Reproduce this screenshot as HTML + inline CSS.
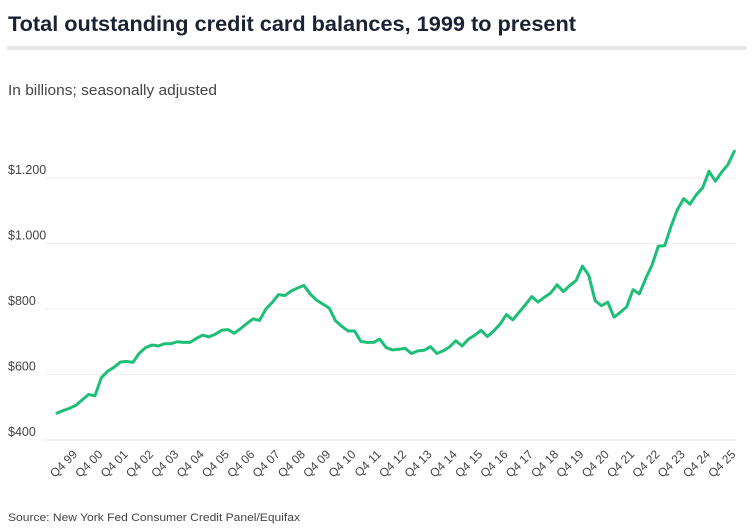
<!DOCTYPE html>
<html><head><meta charset="utf-8"><style>
html,body{margin:0;padding:0;background:#fff;}
svg{display:block;font-family:"Liberation Sans",sans-serif;}
</style></head><body>
<svg id="chart" width="754" height="531" viewBox="0 0 754 531">
<text x="8" y="31" font-size="21" font-weight="bold" fill="#1a2233" textLength="568" lengthAdjust="spacingAndGlyphs">Total outstanding credit card balances, 1999 to present</text>
<rect x="7" y="46" width="740" height="4" fill="#e6e6e6"></rect>
<text x="8" y="95" font-size="15" fill="#444" textLength="209" lengthAdjust="spacingAndGlyphs">In billions; seasonally adjusted</text>
<g id="grid"></g>
<g id="yaxis"></g>
<g id="xaxis"></g>
<g id="series"></g>
<text x="8" y="521" font-size="11" fill="#444" textLength="292" lengthAdjust="spacingAndGlyphs">Source: New York Fed Consumer Credit Panel/Equifax</text>
</svg>
<script>
const yTicks=[400,600,800,1000,1200];
const yTickLabels=["$400","$600","$800","$1.000","$1.200"];
const xTickLabels=["Q4 99","Q4 00","Q4 01","Q4 02","Q4 03","Q4 04","Q4 05","Q4 06","Q4 07","Q4 08","Q4 09","Q4 10","Q4 11","Q4 12","Q4 13","Q4 14","Q4 15","Q4 16","Q4 17","Q4 18","Q4 19","Q4 20","Q4 21","Q4 22","Q4 23","Q4 24","Q4 25"];
const balances=[482,490,497,506,523,539,535,590,610,622,638,640,637,665,682,690,687,694,694,700,698,698,710,720,715,723,735,737,726,740,756,770,765,800,820,844,841,855,864,872,846,827,815,803,764,747,733,733,701,698,698,708,682,675,677,680,664,672,674,685,664,672,684,703,687,708,720,735,716,733,754,783,767,790,813,838,821,836,849,874,853,872,887,931,903,826,810,821,775,790,807,859,846,893,934,992,993,1052,1103,1137,1120,1149,1170,1221,1190,1218,1241,1282];
const NS="http://www.w3.org/2000/svg";
const x0=57,dx=6.33;
function xScale(i){return x0+dx*i;}
function yScale(v){return 440-(v-400)/200*65.5;}
const grid=document.getElementById('grid'),yax=document.getElementById('yaxis'),xax=document.getElementById('xaxis'),ser=document.getElementById('series');
yTicks.forEach((v,k)=>{
  const l=document.createElementNS(NS,'line');
  l.setAttribute('x1',45);l.setAttribute('x2',737);
  l.setAttribute('y1',yScale(v));l.setAttribute('y2',yScale(v));
  l.setAttribute('stroke',k===0?'#e2e2e2':'#efefef');l.setAttribute('stroke-width',1);
  
  
  grid.appendChild(l);
  const t=document.createElementNS(NS,'text');
  t.setAttribute('x',8);t.setAttribute('y',yScale(v)-4);
  t.setAttribute('font-size',12.5);t.setAttribute('fill','#444');
  t.textContent=yTickLabels[k];
  
  
  yax.appendChild(t);
});
xTickLabels.forEach((s,k)=>{
  const x=xScale(3+4*k);
  const t=document.createElementNS(NS,'text');
  t.setAttribute('x',x+2);t.setAttribute('y',455);
  t.setAttribute('text-anchor','end');
  t.setAttribute('font-size',12);t.setAttribute('fill','#444');
  t.setAttribute('transform','rotate(-45 '+(x+2)+' 455)');
  t.textContent=s;
  
  
  xax.appendChild(t);
});
const p=document.createElementNS(NS,'path');
p.setAttribute('d',balances.map((v,i)=>(i?'L':'M')+xScale(i).toFixed(2)+' '+yScale(v).toFixed(2)).join(' '));
p.setAttribute('fill','none');p.setAttribute('stroke','#1dbf78');p.setAttribute('stroke-width',3);
p.setAttribute('stroke-linejoin','round');p.setAttribute('stroke-linecap','round');


ser.appendChild(p);
</script>
</body></html>
